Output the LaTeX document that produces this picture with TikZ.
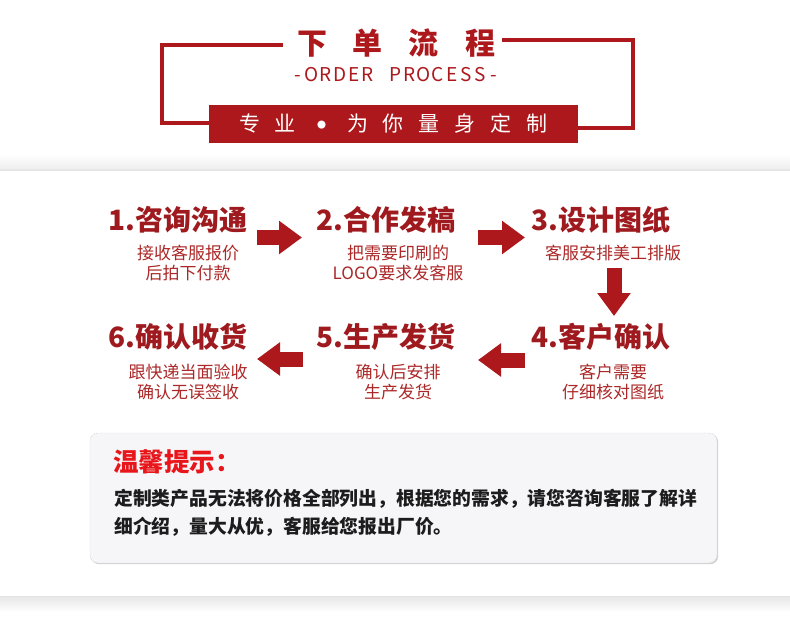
\documentclass[tikz,border=0pt]{standalone}
\usepackage{fontspec}
\setmainfont{Noto Sans CJK SC}
\usetikzlibrary{arrows.meta,shadows}
\definecolor{hdred}{RGB}{172,24,28}
\definecolor{stepred}{RGB}{158,26,30}
\definecolor{subred}{RGB}{172,40,40}
\definecolor{tipred}{RGB}{232,22,26}
\definecolor{tipbg}{RGB}{246,245,248}
\definecolor{txtdark}{RGB}{28,28,28}
\newcommand\fs[1]{\fontsize{#1}{#1}\selectfont}
\newcommand\cbx[2]{\makebox[#1pt]{#2}}
\tikzset{
  bracket/.style={draw=hdred, line width=4pt},
  steptitle/.style={text=stepred, font=\fs{28}\bfseries, inner sep=0pt},
  stepsub/.style={text=subred, font=\fontsize{17}{20}\selectfont, align=center, inner sep=0pt},
  blockarrow/.style={draw=hdred, line width=15pt, -{Triangle[length=23pt,width=32pt]}},
  tipbox/.style={fill=tipbg, draw=gray!40, dash pattern=on 1pt off 1pt, rounded corners=8pt,
     drop shadow={shadow xshift=1.2pt, shadow yshift=-1.2pt, opacity=0.35, fill=gray}},
}
\begin{document}
\begin{tikzpicture}[x=1pt,y=-1pt]
\path[use as bounding box, fill=white] (0,0) rectangle (790,632);

% separator bands
\shade[top color=white, bottom color=gray!13] (0,154) rectangle (790,168.5);
\fill[gray!20] (0,168.5) rectangle (790,170.5);
\fill[gray!22] (0,595.5) rectangle (790,597);
\shade[top color=gray!18, bottom color=white] (0,597) rectangle (790,612);

% header
\node[text=hdred, inner sep=0pt] (title) at (396,43)
  {\fs{30}\bfseries\cbx{56}{下}\cbx{56}{单}\cbx{56}{流}\cbx{56}{程}};
\node[text=hdred, inner sep=0pt] (order) at (396,75)
  {\fs{19}\cbx{14}{-}\cbx{14}{O}\cbx{14}{R}\cbx{14}{D}\cbx{14}{E}\cbx{14}{R}\cbx{14}{ }\cbx{14}{P}\cbx{14}{R}\cbx{14}{O}\cbx{14}{C}\cbx{14}{E}\cbx{14}{S}\cbx{14}{S}\cbx{14}{-}};
\node[fill=hdred, text=white, minimum width=369pt, minimum height=38pt, inner sep=0pt] (slogan) at (393.5,124)
  {\fs{21}\cbx{36}{专}\cbx{36}{业}\cbx{36}{\raisebox{3.5pt}{\fs{9}●}}\cbx{36}{为}\cbx{36}{你}\cbx{36}{量}\cbx{36}{身}\cbx{36}{定}\cbx{36}{制}};
\coordinate (bl1) at (283,45);
\coordinate (br1) at (502,40);
\draw[bracket] (bl1) -- (162,45) -- (162,123) -- (slogan.west |- 0,123);
\draw[bracket] (br1) -- (633,40) -- (633,128) -- (slogan.east |- 0,128);

% steps
\node[steptitle] (s1) at (178,220) {1.咨询沟通};
\node[stepsub]   (d1) at (188,263) {接收客服报价\\后拍下付款};
\node[steptitle] (s2) at (386,220) {2.合作发稿};
\node[stepsub]   (d2) at (398,263) {把需要印刷的\\LOGO要求发客服};
\node[steptitle] (s3) at (601,220) {3.设计图纸};
\node[stepsub]   (d3) at (613,253) {客服安排美工排版};
\node[steptitle] (s4) at (601,337) {4.客户确认};
\node[stepsub]   (d4) at (613,382) {客户需要\\仔细核对图纸};
\node[steptitle] (s5) at (386,337) {5.生产发货};
\node[stepsub]   (d5) at (398,382) {确认后安排\\生产发货};
\node[steptitle] (s6) at (178,337) {6.确认收货};
\node[stepsub]   (d6) at (188,382) {跟快递当面验收\\确认无误签收};

% arrows
\coordinate (a12s) at (257,237.5); \coordinate (a12e) at (302,237.5);
\coordinate (a23s) at (478,237.5); \coordinate (a23e) at (525,237.5);
\coordinate (a34s) at (614,268);   \coordinate (a34e) at (614,316);
\coordinate (a45s) at (525,360);   \coordinate (a45e) at (478,360);
\coordinate (a56s) at (303,359);   \coordinate (a56e) at (257,359);
\draw[blockarrow] (a12s) -- (a12e);
\draw[blockarrow] (a23s) -- (a23e);
\draw[blockarrow] (a34s) -- (a34e);
\draw[blockarrow] (a45s) -- (a45e);
\draw[blockarrow] (a56s) -- (a56e);

% tip box
\node[tipbox, minimum width=627pt, minimum height=130pt, inner sep=0pt] (tip) at (403.5,498) {};
\node[anchor=west, text=tipred, font=\fs{25.5}\bfseries, inner sep=0pt] (tiptitle) at (113,462) {温馨提示：};
\node[anchor=west, text=txtdark, font=\fontsize{18.8}{28}\selectfont\bfseries, align=left, inner sep=0pt] (tiptext) at (114,513)
  {定制类产品无法将价格全部列出，根据您的需求，请您咨询客服了解详\\细介绍，量大从优，客服给您报出厂价。};
\end{tikzpicture}
\end{document}
